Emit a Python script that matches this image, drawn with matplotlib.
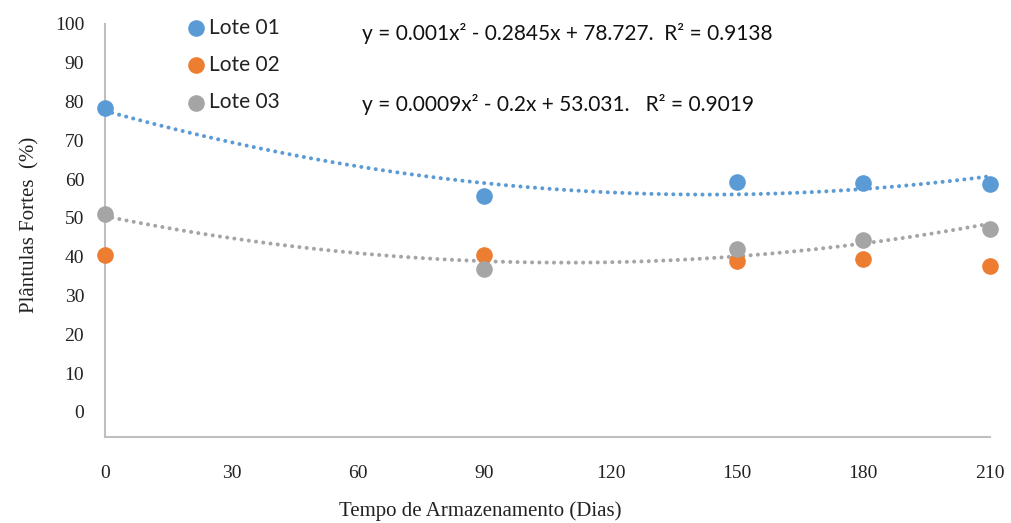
import matplotlib
matplotlib.use("Agg")
import matplotlib.pyplot as plt
import numpy as np

# storage time (days)
dias = [0, 90, 150, 180, 210]
# strong seedlings (%) per lot
lote01 = [78.4, 55.5, 59.3, 58.9, 58.6]
lote02 = [40.3, 40.3, 38.8, 39.5, 37.5]
lote03 = [50.9, 36.8, 41.9, 44.4, 47.2]

eq01 = "y = 0.001x² - 0.2845x + 78.727.  R² = 0.9138"
eq03 = "y = 0.0009x² - 0.2x + 53.031.   R² = 0.9019"
xticks = [0, 30, 60, 90, 120, 150, 180, 210]
yticks = list(range(0, 101, 10))

blue = "#5B9BD5"
orange = "#ED7D31"
gray = "#A5A5A5"
serif = "Liberation Serif"
sans = "Lato"

fig = plt.figure(figsize=(10.11, 5.23), dpi=100)
ax = fig.add_axes([0.1039, 0.1644, 0.875, 0.790])

x = np.array(dias)
xs = np.linspace(0, 210, 300)
# quadratic trend lines for lote 01 and lote 03
for ys, c in [(lote01, blue), (lote03, gray)]:
    p = np.polyfit(x, ys, 2)
    ax.plot(xs, np.polyval(p, xs), ls=(0, (0.01, 1.8)), lw=2.9, color=c,
            dash_capstyle="round", zorder=2)

ax.scatter(dias, lote01, s=120, color=blue, label="Lote 01", zorder=3, clip_on=False)
ax.scatter(dias, lote02, s=120, color=orange, label="Lote 02", zorder=3, clip_on=False)
ax.scatter(dias, lote03, s=120, color=gray, label="Lote 03", zorder=3, clip_on=False)

ax.set_xlim(0, 210)
ax.set_ylim(-6.5, 100)
ax.set_xticks(xticks)
ax.set_yticks(yticks)
ax.tick_params(length=0)
ax.tick_params(axis="y", pad=15)
ax.tick_params(axis="x", pad=20)
for lab in ax.get_xticklabels() + ax.get_yticklabels():
    lab.set_fontfamily(serif)
    lab.set_fontsize(14)
    lab.set_color("#222222")

for s in ["top", "right"]:
    ax.spines[s].set_visible(False)
for s in ["left", "bottom"]:
    ax.spines[s].set_color("#BFBFBF")
    ax.spines[s].set_linewidth(1.5)

ax.set_xlabel("Tempo de Armazenamento (Dias)", fontfamily=serif, fontsize=15, color="#222222")
ax.xaxis.set_label_coords(0.424, -0.155)
ax.set_ylabel("Plântulas Fortes  (%)", fontfamily=serif, fontsize=15, color="#222222")
ax.yaxis.set_label_coords(-0.074, 0.513)

ax.text(0.291, 0.977, eq01, transform=ax.transAxes, fontfamily=sans, fontsize=15,
        va="center", ha="left", color="#111111")
ax.text(0.291, 0.806, eq03, transform=ax.transAxes, fontfamily=sans, fontsize=15,
        va="center", ha="left", color="#111111")

leg = ax.legend(loc="upper left", bbox_to_anchor=(0.068, 1.06), frameon=False,
                prop={"family": sans, "size": 15}, labelspacing=0.82,
                handletextpad=0.0, handlelength=1.2, markerscale=1.0)
for t in leg.get_texts():
    t.set_color("#222222")

fig.savefig("out.png", dpi=100)
